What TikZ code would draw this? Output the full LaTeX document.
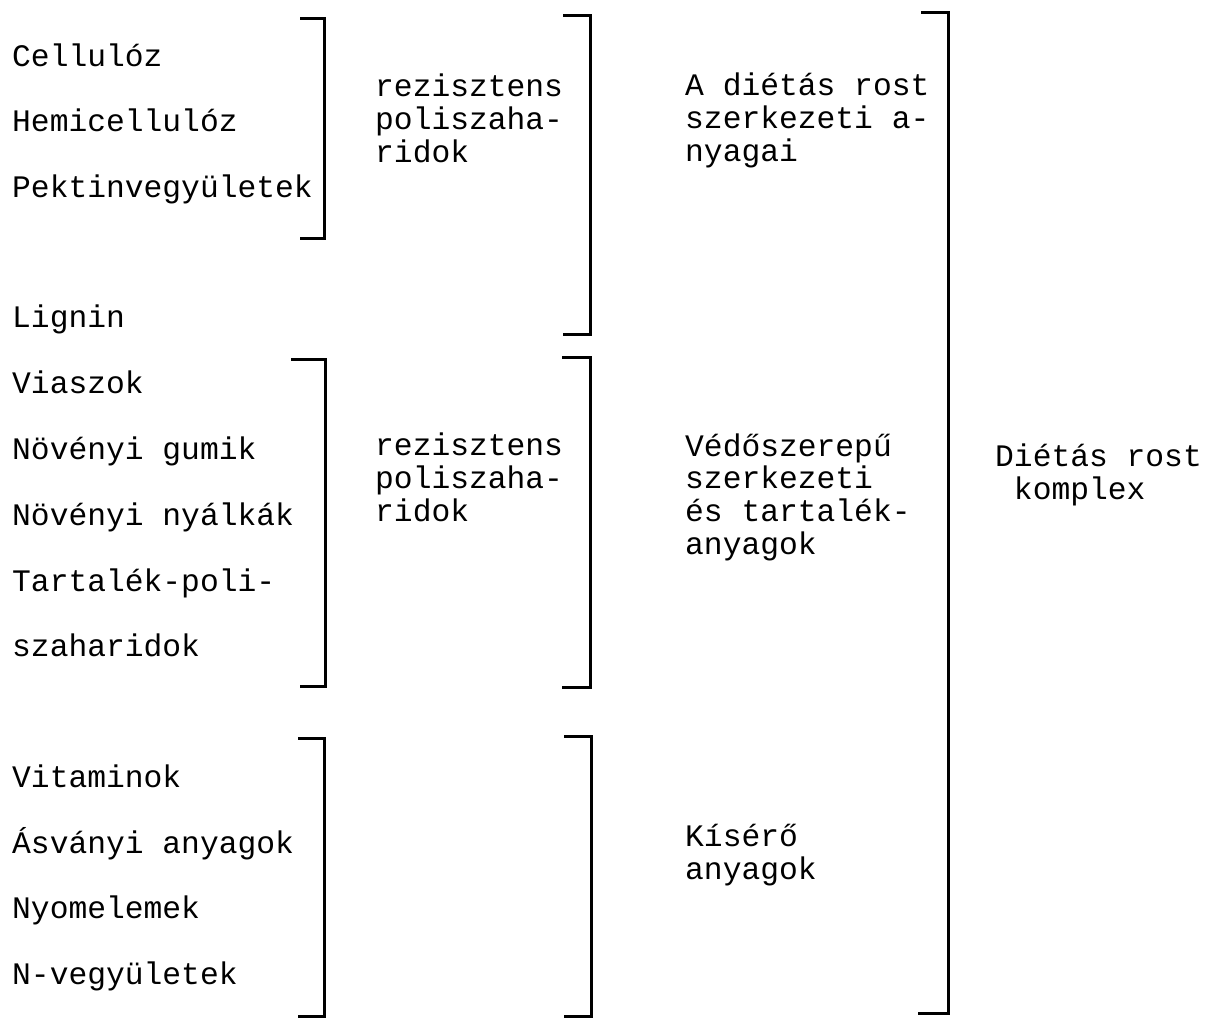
\documentclass[tikz,border=0pt]{standalone}
\usepackage{fontspec}
\setmonofont{Liberation Mono}
\usetikzlibrary{scopes}
\newcommand{\listfont}{\ttfamily\fontsize{31.3}{32.6}\selectfont}

\begin{document}
\begin{tikzpicture}[x=1pt, y=-1pt]
	\useasboundingbox (0,0) rectangle (1205,1018);

	{ [anchor=base west, inner sep=0pt, font=\listfont]
		\node (cel) at (12,66) {Cellulóz};
		\node (hem) at (12,131.6) {Hemicellulóz};
		\node (pek) at (12,197.2) {Pektinvegyületek};
		\node (lig) at (12,327) {Lignin};
		\node (via) at (12,393) {Viaszok};
		\node (gum) at (12,459) {Növényi gumik};
		\node (nya) at (12,525) {Növényi nyálkák};
		\node (tar) at (12,591) {Tartalék-poli-};
		\node (sza) at (12,656.5) {szaharidok};
		\node (vit) at (12,787) {Vitaminok};
		\node (asv) at (12,853) {Ásványi anyagok};
		\node (nyo) at (12,918.5) {Nyomelemek};
		\node (nve) at (12,984) {N-vegyületek};

		% multi-line: base = last line
		{ [align=left]
			\node (rez1) at (375,162) {rezisztens\\poliszaha-\\ridok};
			\node (szk) at (685,161) {A diétás rost\\szerkezeti a-\\nyagai};
			\node (rez2) at (375,521) {rezisztens\\poliszaha-\\ridok};
			\node (ved) at (685,554) {Védőszerepű\\szerkezeti\\és tartalék-\\anyagok};
			\node (kis) at (685,879) {Kísérő\\anyagok};
			\node (drk) at (995,499) {Diétás rost\\\hphantom{D}komplex};
		}
	}

	{ [line width=3pt]
		\draw (300,18) -| (324,238) -- (300,238);
		\draw (563,15) -| (590,334) -- (563,334);
		\draw (921,12) -| (948,1013) -- (918,1013);

		\draw (291,359) -| (325,686) -- (300,686);
		\draw (562,357) -| (590,687) -- (562,687);

		\draw (298,738) -| (324,1016) -- (298,1016);
		\draw (564,736) -| (591,1016) -- (564,1016);
	}
\end{tikzpicture}
\end{document}
